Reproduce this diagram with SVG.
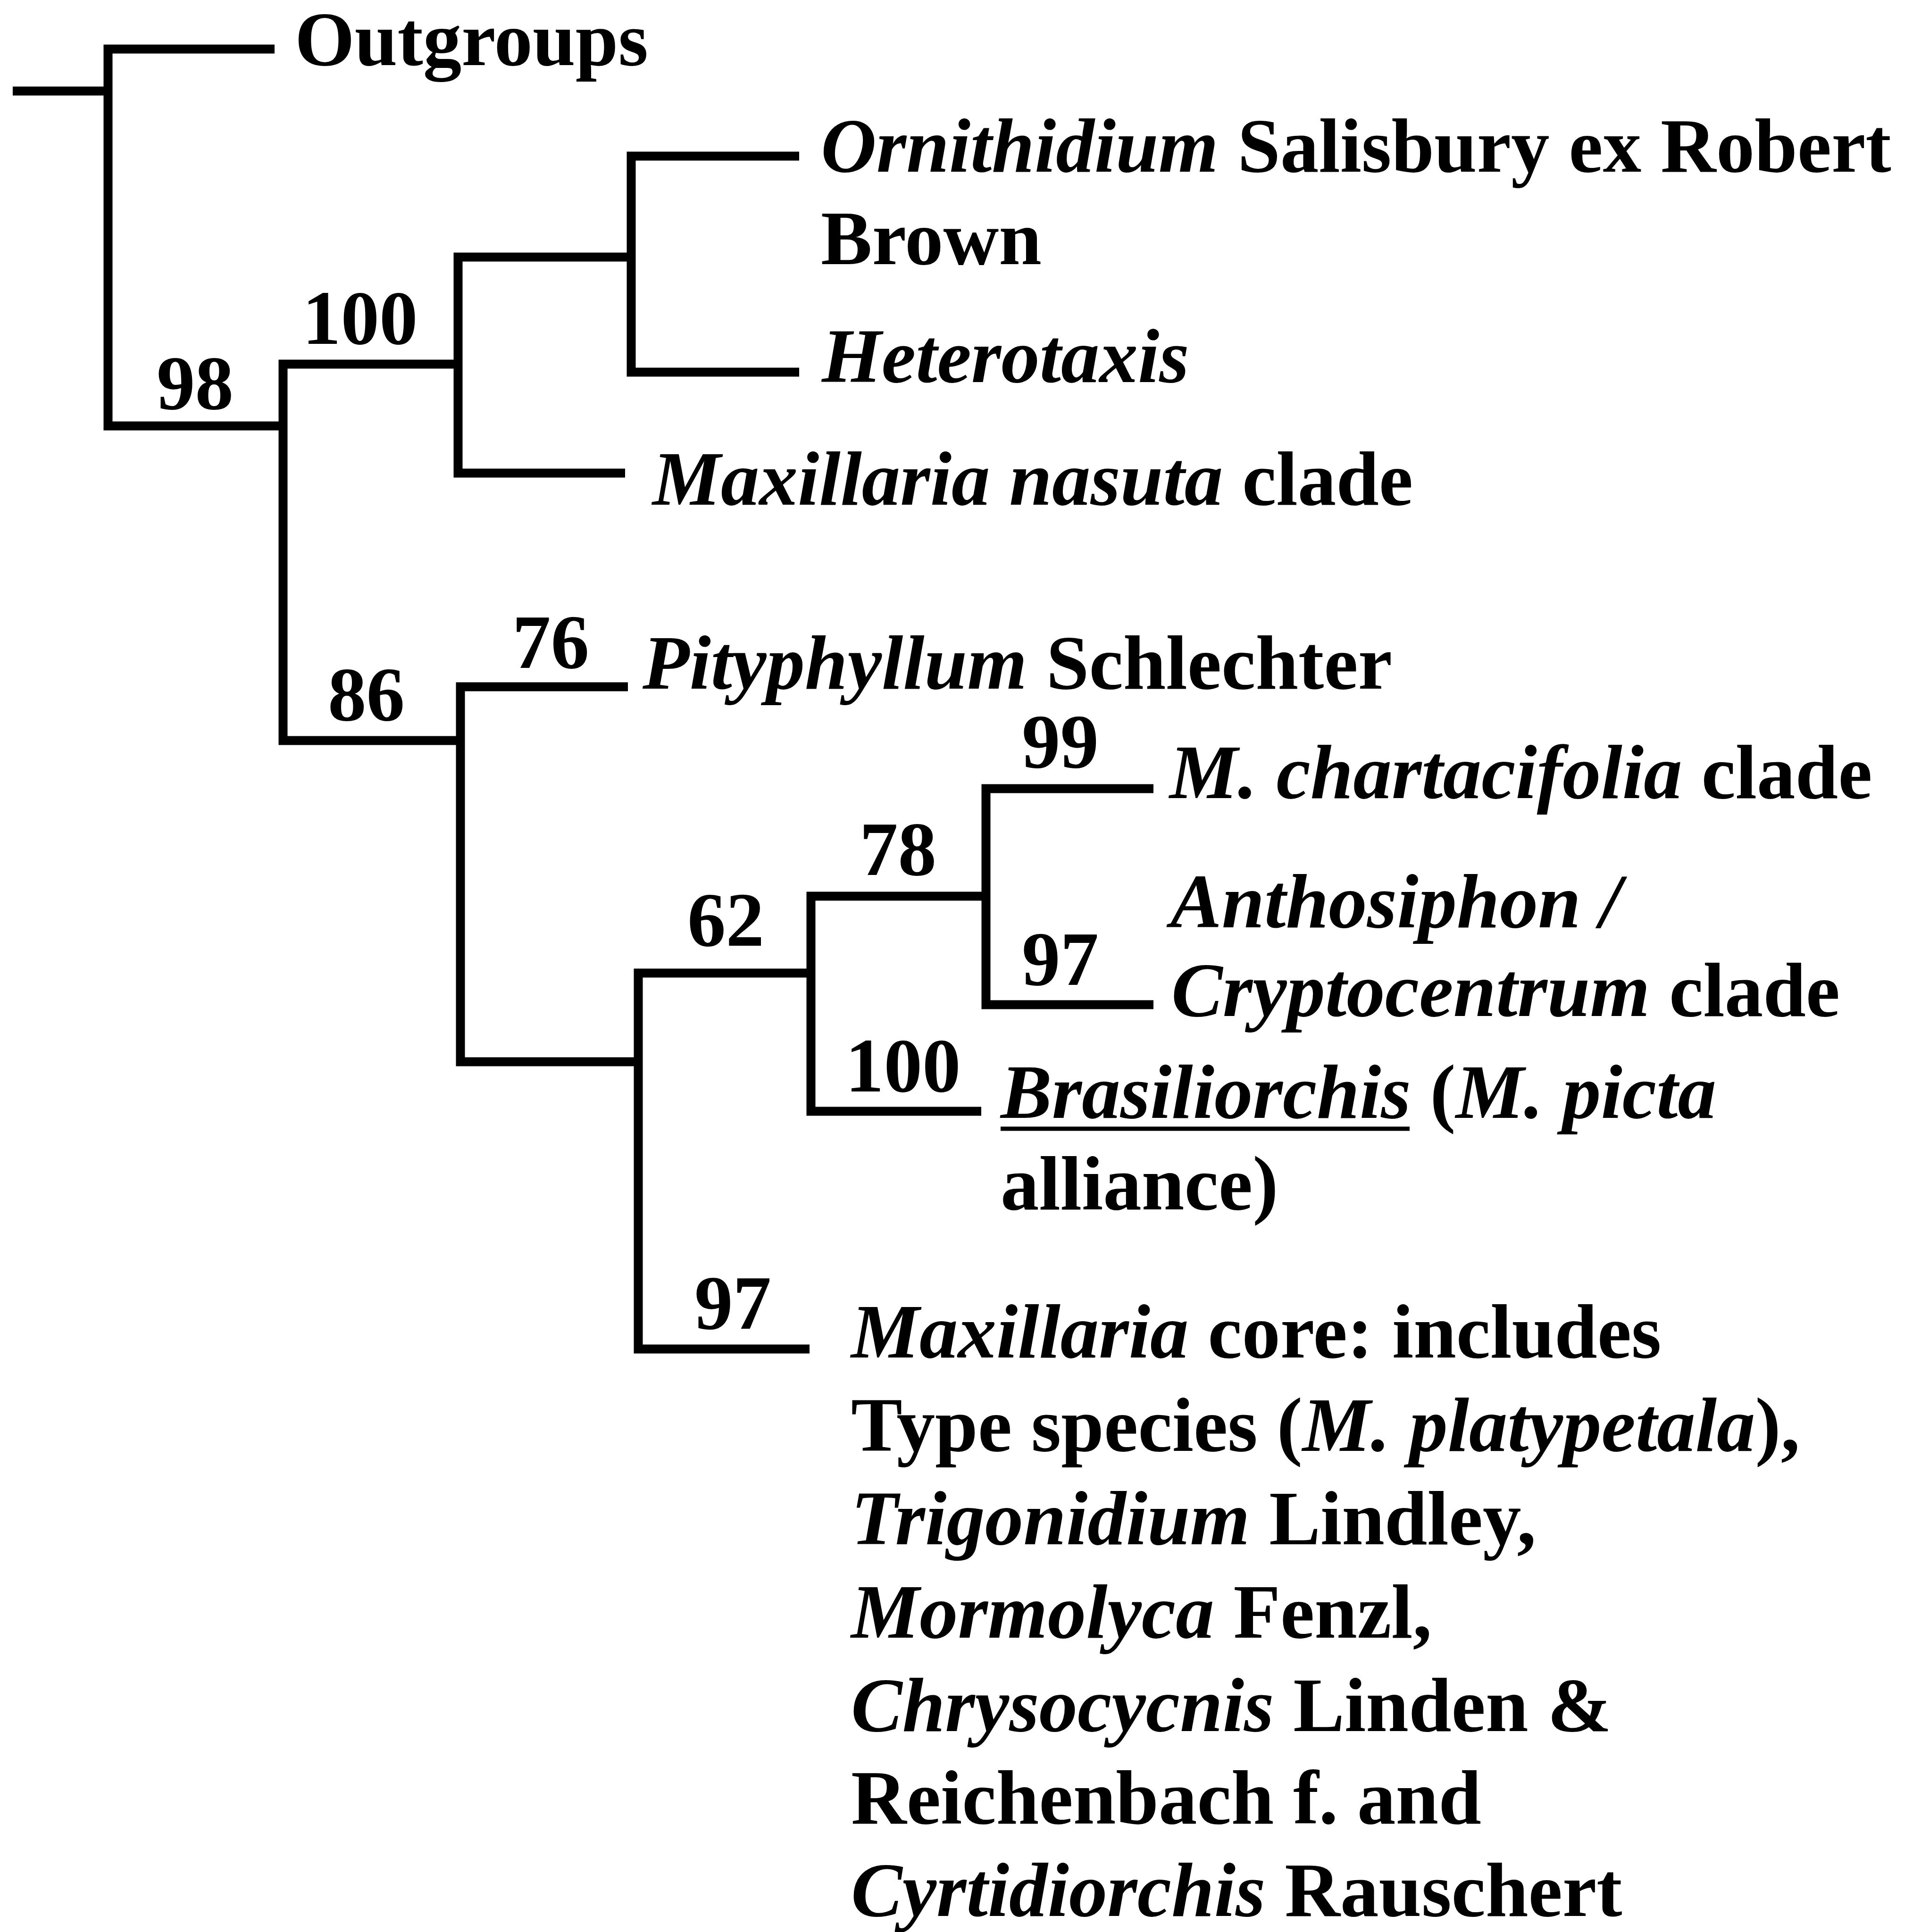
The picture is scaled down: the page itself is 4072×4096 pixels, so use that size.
<svg xmlns="http://www.w3.org/2000/svg" width="4072" height="4096" viewBox="0 0 4072 4096">
<style>
.t{font-family:"Liberation Serif","Times New Roman",serif;font-weight:bold;font-size:163px;fill:#000}
.i{font-style:italic}
.e{fill:none;stroke:#000;stroke-width:19;stroke-linejoin:miter;stroke-linecap:butt}
</style>
<rect width="4072" height="4096" fill="#fff"/>
<g id="connectors">
<path class="e" d="M27,193 H229"/>
<path class="e" d="M582,104 H229 V903 H600"/>
<path class="e" d="M971,772 H600 V1570 H976"/>
<path class="e" d="M1338,545 H971 V1003 H1325"/>
<path class="e" d="M1694,331 H1338 V789 H1694"/>
<path class="e" d="M1331,1456 H976 V2251 H1353"/>
<path class="e" d="M1719,2063 H1353 V2860 H1716"/>
<path class="e" d="M2090,1900 H1719 V2356 H2080"/>
<path class="e" d="M2445,1672 H2090 V2130 H2445"/>
</g>
<g id="support-values">
<text class="t" x="332" y="867">98</text>
<text class="t" x="641" y="729">100</text>
<text class="t" x="695" y="1527">86</text>
<text class="t" x="1086" y="1416">76</text>
<text class="t" x="1457" y="2005">62</text>
<text class="t" x="1822" y="1855">78</text>
<text class="t" x="2166" y="1627">99</text>
<text class="t" x="2166" y="2088">97</text>
<text class="t" x="1792" y="2314">100</text>
<text class="t" x="1472" y="2817">97</text>
</g>
<g id="node-outgroups"><text class="t" x="625" y="138">Outgroups</text></g>
<g id="node-ornithidium"><text class="t" x="1740" y="364"><tspan class="i">Ornithidium</tspan> Salisbury ex Robert</text><text class="t" x="1740" y="560">Brown</text></g>
<g id="node-heterotaxis"><text class="t" x="1742" y="810"><tspan class="i">Heterotaxis</tspan></text></g>
<g id="node-nasuta"><text class="t" x="1383" y="1070"><tspan class="i">Maxillaria nasuta</tspan> clade</text></g>
<g id="node-pityphyllum"><text class="t" x="1362" y="1460"><tspan class="i">Pityphyllum</tspan> Schlechter</text></g>
<g id="node-chartacifolia"><text class="t" x="2479" y="1692"><tspan class="i">M. chartacifolia</tspan> clade</text></g>
<g id="node-anthosiphon"><text class="t" x="2481" y="1966"><tspan class="i">Anthosiphon /</tspan></text><text class="t" x="2483" y="2154"><tspan class="i">Cryptocentrum</tspan> clade</text></g>
<g id="node-brasiliorchis"><text class="t" x="2121" y="2370"><tspan class="i">Brasiliorchis</tspan> (<tspan class="i">M. picta</tspan></text><text class="t" x="2121" y="2564">alliance)</text><path d="M2121,2393 H2988" stroke="#000" stroke-width="9" fill="none"/></g>
<g id="node-maxillaria-core">
<text class="t" x="1804" y="2878"><tspan class="i">Maxillaria</tspan> core: includes</text>
<text class="t" x="1804" y="3076">Type species (<tspan class="i">M. platypetala</tspan>),</text>
<text class="t" x="1804" y="3274"><tspan class="i">Trigonidium</tspan> Lindley,</text>
<text class="t" x="1804" y="3472"><tspan class="i">Mormolyca</tspan> Fenzl,</text>
<text class="t" x="1804" y="3670"><tspan class="i">Chrysocycnis</tspan> Linden &amp;</text>
<text class="t" x="1804" y="3866">Reichenbach f. and</text>
<text class="t" x="1804" y="4062"><tspan class="i">Cyrtidiorchis</tspan> Rauschert</text>
</g>
</svg>
